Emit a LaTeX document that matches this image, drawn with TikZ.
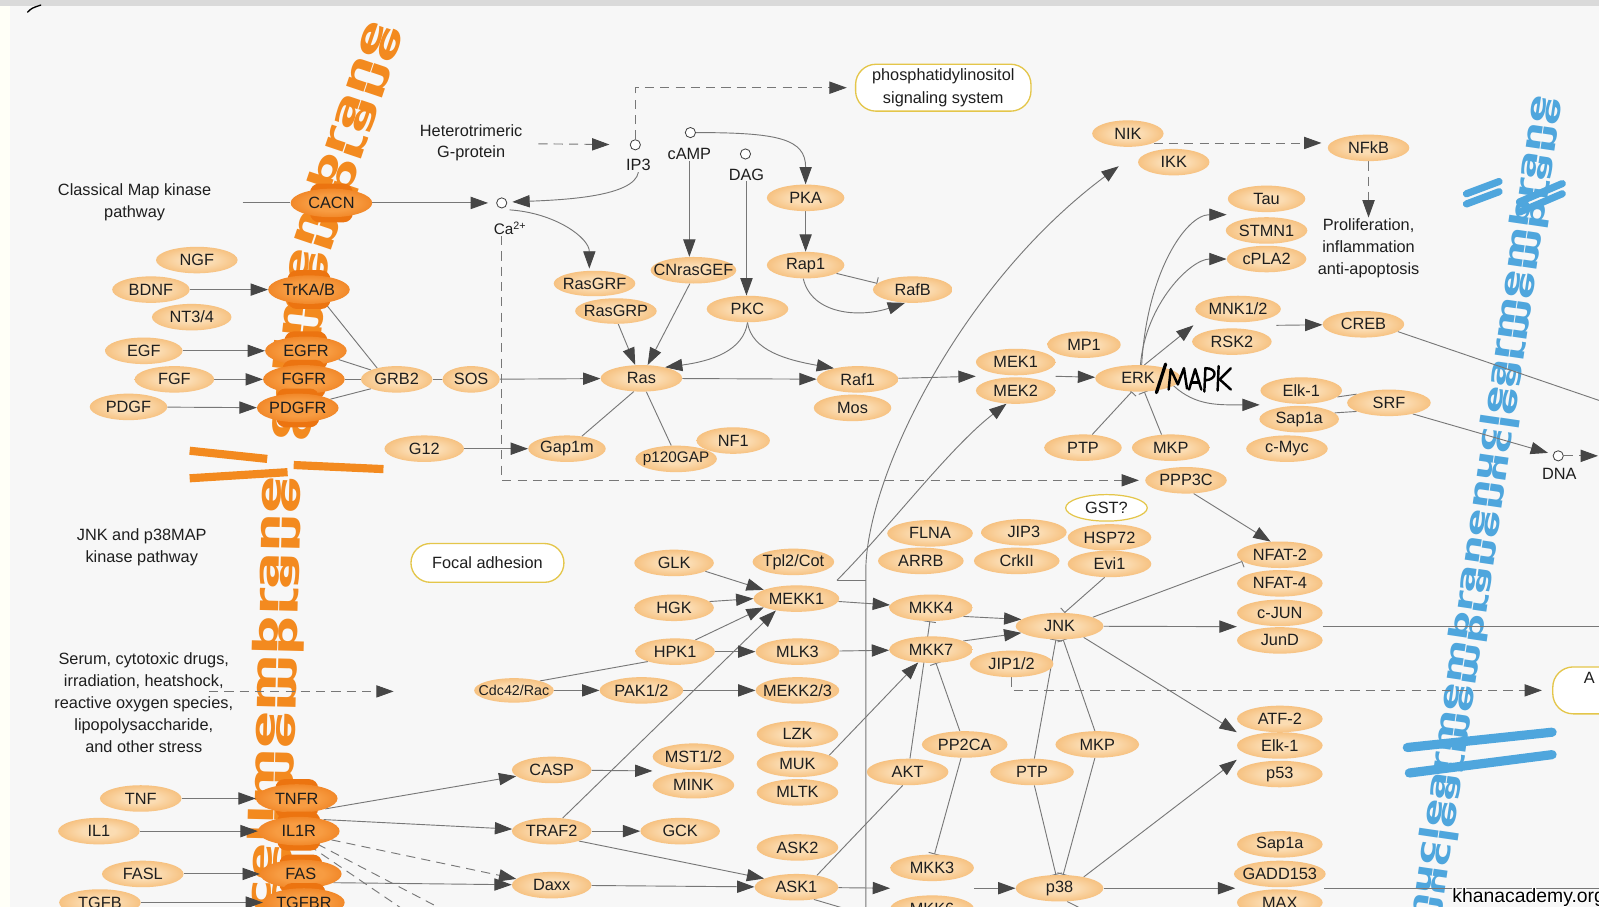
\documentclass[tikz,border=0pt]{standalone}
\usepackage{fontspec}
\usepackage{graphicx}
\setmainfont{Liberation Sans}
\newfontfamily\memfont{DejaVu Sans}
\usetikzlibrary{shapes.geometric,arrows.meta,calc}

\definecolor{paperc}{HTML}{F7F7F7}
\definecolor{framec}{HTML}{DADADA}
\definecolor{gIn}{HTML}{FBDCB2}
\definecolor{gMid}{HTML}{F6C07E}
\definecolor{gOut}{HTML}{EFA24E}
\definecolor{rIn}{HTML}{F79C42}
\definecolor{rOut}{HTML}{EC7410}
\definecolor{wirec}{HTML}{777777}
\definecolor{tipc}{HTML}{464646}
\definecolor{mapc}{HTML}{E4C64A}
\definecolor{txtc}{HTML}{1E1E1E}
\definecolor{cellc}{HTML}{F38A1F}
\definecolor{nucc}{HTML}{4FA6DD}

\pgfdeclareradialshading{genesh}{\pgfpoint{0bp}{0bp}}{color(0bp)=(gIn); color(10bp)=(gIn); color(26bp)=(gMid); color(37bp)=(gOut); color(50bp)=(gOut)}
\pgfdeclareradialshading{recsh}{\pgfpoint{0bp}{0bp}}{color(0bp)=(rIn); color(14bp)=(rIn); color(36bp)=(rOut); color(50bp)=(rOut)}

\pgfdeclarelayer{paper}
\pgfdeclarelayer{membrane}
\pgfdeclarelayer{wires}
\pgfsetlayers{paper,membrane,wires,main}

% receptor: a dark bump behind a dark ellipse
\newcommand\recep[3]{\node[bump] at #2 {}; \node[rec] (#1) at #2 {#3};}
% membrane lettering: a word column and its mirror image
\newcommand\memcol[6]{%
  \node[memtext,rotate=#2,text=#6] at #1 {\resizebox{#3}{#4}{\memfont\bfseries #5}};
  \node[memtext,rotate=#2,yscale=-1,text=#6] at #1 {\resizebox{#3}{#4}{\memfont\bfseries #5}};}

\tikzset{
  gene/.style={ellipse, minimum width=78pt, minimum height=26pt, inner sep=0pt,
    shade, shading=genesh,
    execute at begin node={\hbox to 0pt\bgroup\hss},
    execute at end node={\hss\egroup}},
  rec/.style={gene, shading=recsh, minimum width=80pt, minimum height=28pt},
  bump/.style={rectangle, rounded corners=9pt, fill=rOut, minimum width=42pt, minimum height=38pt, inner sep=0pt},
  cpd/.style={circle, draw=black!75, fill=white, line width=0.8pt, minimum size=10pt, inner sep=0pt},
  lbl/.style={align=center, inner sep=1pt, font=\fontsize{16}{21.5}\selectfont},
  mapbox/.style={rectangle, rounded corners=20pt, draw=mapc, line width=1.3pt, fill=white, align=center, inner sep=2pt},
  wire/.style={draw=wirec, line width=0.9pt},
  arrowtip/.style={-{Triangle[length=17pt,width=12pt,color=tipc]}},
  act/.style={wire, arrowtip},
  inh/.style={wire, -{Bar[width=12pt]}},
  dsh/.style={dash pattern=on 9pt off 6pt},
  memtext/.style={inner sep=0pt, anchor=south},
  wmark/.style={anchor=base west, inner sep=0pt, font=\fontsize{19}{19}\selectfont},
}

\begin{document}
\begin{tikzpicture}[x=1pt, y=-1pt, font=\fontsize{16}{19}\selectfont, text=txtc]
\useasboundingbox (0,0) rectangle (1568,889);

\begin{pgfonlayer}{paper}
  \fill[framec] (0,0) rectangle (1568,889);
  \fill[white!97!yellow] (0,6) rectangle (10,889);
  \fill[paperc] (10,6) rectangle (1568,889);
  \draw[black, line width=1.3pt, line cap=round] (27,12) .. controls (31,8) .. (40,5);
\end{pgfonlayer}

% ---------------- membranes ----------------
\begin{pgfonlayer}{membrane}
  % plasma membrane
  \memcol{(271.5,681)}{88.6}{428pt}{25pt}{cellmembrane}{cellc}
  \memcol{(295,338.5)}{83.9}{188pt}{25pt}{cellme}{cellc}
  \memcol{(342.5,133.5)}{71.4}{232pt}{25pt}{mbrane}{cellc}
  \draw[cellc, line width=8pt] (186,442) -- (262,450);
  \draw[cellc, line width=8pt] (186,469) -- (282,463);
  \draw[cellc, line width=8pt] (288,456) -- (376,460);
  % nuclear membrane
  \memcol{(1458,500)}{81.6}{819pt}{19pt}{nuclearmembranenuclearmembrane}{nucc}
  \draw[nucc, line width=9pt, line cap=round] (1380,733) -- (1522,718);
  \draw[nucc, line width=9pt, line cap=round] (1382,758) -- (1522,740);
  \draw[nucc, line width=7pt, line cap=round] (1438,190) -- (1470,178);
  \draw[nucc, line width=7pt, line cap=round] (1438,200) -- (1470,188);
  \draw[nucc, line width=7pt, line cap=round] (1490,198) -- (1532,180);
  \draw[nucc, line width=7pt, line cap=round] (1490,208) -- (1532,190);
\end{pgfonlayer}

% ---------------- labels and compounds ----------------
\node[lbl] (classic) at (132,198.5) {Classical Map kinase\\pathway};
\coordinate (clsEnd) at (238,199);
\node[lbl] (hetero) at (462,140) {Heterotrimeric\\G-protein};
\coordinate (hetOut) at (528,141);
\node[cpd] (Ca) at (492,199) {};
\node[lbl, font=\fontsize{15}{18}\selectfont] (CaL) at (500,224) {Ca\textsuperscript{2+}};
\node[cpd] (IP3) at (623,142) {};
\node[lbl] (IP3L) at (626,162) {IP3};
\node[cpd] (cAMP) at (677,130) {};
\node[lbl] (cAMPL) at (676,151) {cAMP};
\node[cpd] (DAG) at (731,151) {};
\node[lbl] (DAGL) at (732,171) {DAG};
\node[mapbox, minimum width=172pt, minimum height=46pt, font=\fontsize{16}{22}\selectfont] (PI) at (925,86) {phosphatidylinositol\\signaling system};
\node[lbl] (prolif) at (1342,243.5) {Proliferation,\\inflammation\\anti-apoptosis};
\node[cpd] (DNA) at (1528,447) {};
\node[lbl] (DNAL) at (1529,465) {DNA};
\coordinate (dnaEnd) at (1567,447);
\coordinate (crebEnd) at (1572,394);

\node[lbl] (jnklab) at (139,537) {JNK and p38MAP\\kinase pathway};
\node[mapbox, minimum width=150pt, minimum height=38pt, rounded corners=19pt] (focal) at (478,552) {Focal adhesion};
\node[lbl] (serum) at (141,689) {Serum, cytotoxic drugs,\\irradiation, heatshock,\\reactive oxygen species,\\lipopolysaccharide,\\and other stress};
\coordinate (serumStart) at (205,678);
\coordinate (serumEnd) at (386,678);
\node[mapbox, minimum width=110pt, minimum height=46pt, anchor=west] (Abox) at (1522,677) {};
\node[lbl, anchor=west] (Atxt) at (1552,665) {A};

% ---------------- receptors ----------------
\recep{CACN}{(325,199)}{CACN}
\recep{TrKAB}{(303,284)}{TrKA/B}
\recep{EGFR}{(300,344)}{EGFR}
\recep{FGFR}{(298,372)}{FGFR}
\recep{PDGFR}{(292,400)}{PDGFR}
\recep{TNFR}{(291,783)}{TNFR}
\recep{IL1R}{(293,815)}{IL1R}
\recep{FAS}{(295,857)}{FAS}
\recep{TGFBR}{(298,885)}{TGFBR}

% ---------------- classical MAPK genes ----------------
\node[gene, minimum width=80pt] (NGF) at (193,255) {NGF};
\node[gene, minimum width=76pt] (BDNF) at (148,284) {BDNF};
\node[gene] (NT34) at (188,311) {NT3/4};
\node[gene, minimum width=76pt] (EGF) at (141,344) {EGF};
\node[gene] (FGF) at (171,372) {FGF};
\node[gene, minimum width=76pt] (PDGF) at (126,399) {PDGF};
\node[gene, minimum width=70pt] (GRB2) at (389,372) {GRB2};
\node[gene, minimum width=56pt] (SOS) at (462,372) {SOS};
\node[gene] (G12) at (416,440) {G12};
\node[gene, minimum width=80pt, minimum height=25pt] (RasGRF) at (583,278) {RasGRF};
\node[gene, minimum width=80pt, minimum height=25pt] (RasGRP) at (604,305) {RasGRP};
\node[gene, minimum width=84pt] (CNrasGEF) at (680,265) {CNrasGEF};
\node[gene, minimum width=80pt] (PKC) at (733,303) {PKC};
\node[gene, minimum width=76pt] (PKA) at (790,194) {PKA};
\node[gene, minimum width=76pt] (Rap1) at (790,260) {Rap1};
\node[gene] (RafB) at (895,284) {RafB};
\node[gene, minimum width=80pt] (Ras) at (629,371) {Ras};
\node[gene, minimum width=80pt] (Raf1) at (841,372) {Raf1};
\node[gene, minimum width=76pt] (Mos) at (836,400) {Mos};
\node[gene, minimum width=76pt] (Gap1m) at (556,440) {Gap1m};
\node[gene, minimum width=72pt] (NF1) at (719,432) {NF1};
\node[gene, minimum width=80pt, font=\fontsize{15}{18}\selectfont] (p120GAP) at (663,450) {p120GAP};
\node[gene, minimum width=72pt] (MP1) at (1063,338) {MP1};
\node[gene] (MEK1) at (996,355) {MEK1};
\node[gene] (MEK2) at (996,383) {MEK2};
\node[gene, minimum width=84pt] (ERK) at (1116,371) {ERK};
\node[gene, minimum width=76pt] (PTPa) at (1062,439) {PTP};
\node[gene, minimum width=76pt] (MKPa) at (1148,439) {MKP};
\node[gene, minimum width=80pt] (PPP3C) at (1163,471) {PPP3C};
\node[gene, minimum width=70pt] (NIK) at (1106,131) {NIK};
\node[gene, minimum width=70pt] (IKK) at (1151,159) {IKK};
\node[gene, minimum width=80pt] (NFkB) at (1342,145) {NFkB};
\node[gene, minimum width=76pt] (Tau) at (1242,195) {Tau};
\node[gene, minimum width=80pt] (STMN1) at (1242,226) {STMN1};
\node[gene] (cPLA2) at (1242,254) {cPLA2};
\node[gene, minimum width=84pt] (MNK12) at (1214,303) {MNK1/2};
\node[gene] (RSK2) at (1208,335) {RSK2};
\node[gene, minimum width=80pt] (CREB) at (1337,318) {CREB};
\node[gene, minimum width=80pt] (Elk1) at (1276,383) {Elk-1};
\node[gene] (Sap1a) at (1274,411) {Sap1a};
\node[gene, minimum width=80pt] (cMyc) at (1262,440) {c-Myc};
\node[gene, minimum width=82pt] (SRF) at (1362,395) {SRF};

% ---------------- JNK / p38 genes ----------------
\node[gene] (GLK) at (661,552) {GLK};
\node[gene] (HGK) at (661,596) {HGK};
\node[gene] (HPK1) at (662,639) {HPK1};
\node[gene, minimum width=80pt] (Tpl2) at (778,551) {Tpl2/Cot};
\node[gene, minimum width=84pt] (MEKK1) at (781,587) {MEKK1};
\node[gene, minimum width=82pt] (MLK3) at (782,639) {MLK3};
\node[gene, minimum width=82pt] (MEKK23) at (782,677) {MEKK2/3};
\node[gene, minimum height=24pt, font=\fontsize{14}{17}\selectfont] (Cdc42) at (504,677) {Cdc42/Rac};
\node[gene, minimum width=82pt] (PAK12) at (629,677) {PAK1/2};
\node[gene, minimum width=80pt] (LZK) at (782,720) {LZK};
\node[gene, minimum width=80pt] (MUK) at (782,749) {MUK};
\node[gene, minimum width=80pt] (MLTK) at (782,777) {MLTK};
\node[gene] (CASP) at (541,755) {CASP};
\node[gene, minimum width=80pt] (MST12) at (680,742) {MST1/2};
\node[gene, minimum width=80pt] (MINK) at (680,770) {MINK};
\node[gene] (TRAF2) at (541,815) {TRAF2};
\node[gene] (GCK) at (667,815) {GCK};
\node[gene, minimum width=80pt] (ASK2) at (782,831) {ASK2};
\node[gene, minimum width=82pt] (ASK1) at (781,870) {ASK1};
\node[gene] (Daxx) at (541,868) {Daxx};
\node[gene, minimum width=84pt] (FLNA) at (912,523) {FLNA};
\node[gene, minimum width=84pt] (JIP3) at (1004,522) {JIP3};
\node[gene, minimum width=84pt] (ARRB) at (903,550) {ARRB};
\node[gene, minimum width=84pt] (CrkII) at (997,550) {CrkII};
\node[ellipse, draw=mapc, line width=1.2pt, fill=white, minimum width=80pt, minimum height=26pt, inner sep=0pt] (GST) at (1085,498) {GST?};
\node[gene, minimum width=82pt] (HSP72) at (1088,527) {HSP72};
\node[gene, minimum width=82pt] (Evi1) at (1088,553) {Evi1};
\node[gene, minimum width=82pt] (MKK4) at (913,596) {MKK4};
\node[gene, minimum width=82pt] (MKK7) at (913,637) {MKK7};
\node[gene, minimum width=82pt] (JIP12) at (992,651) {JIP1/2};
\node[gene, minimum width=86pt] (JNK) at (1039,614) {JNK};
\node[gene, minimum width=84pt] (NFAT2) at (1255,544) {NFAT-2};
\node[gene, minimum width=84pt] (NFAT4) at (1255,572) {NFAT-4};
\node[gene, minimum width=84pt] (cJUN) at (1255,601) {c-JUN};
\node[gene, minimum width=84pt] (JunD) at (1255,628) {JunD};
\node[gene, minimum width=84pt] (PP2CA) at (946,730) {PP2CA};
\node[gene, minimum width=80pt] (AKT) at (890,757) {AKT};
\node[gene, minimum width=82pt] (PTPb) at (1012,757) {PTP};
\node[gene, minimum width=82pt] (MKPb) at (1076,730) {MKP};
\node[gene, minimum width=82pt] (MKK3) at (914,851) {MKK3};
\node[gene, minimum width=82pt] (MKK6) at (914,891) {MKK6};
\node[gene, minimum width=86pt] (p38) at (1039,871) {p38};
\node[gene, minimum width=84pt] (ATF2) at (1255,705) {ATF-2};
\node[gene, minimum width=84pt] (Elk1b) at (1255,731) {Elk-1};
\node[gene, minimum width=84pt] (p53) at (1255,759) {p53};
\node[gene, minimum width=84pt] (Sap1ab) at (1255,828) {Sap1a};
\node[gene, minimum width=90pt] (GADD) at (1255,857) {GADD153};
\node[gene, minimum width=84pt] (MAX) at (1255,885) {MAX};
\node[gene, minimum width=80pt] (TNF) at (138,783) {TNF};
\node[gene, minimum width=80pt] (IL1) at (97,815) {IL1};
\node[gene, minimum width=80pt] (FASL) at (140,857) {FASL};
\node[gene, minimum width=80pt] (TGFB) at (98,885) {TGFB};

% group entry and exit points
\coordinate (MEKin) at ($(MEK1.west)!0.5!(MEK2.west)$);
\coordinate (MEKout) at ($(MEK1.east)!0.5!(MEK2.east)$);
\coordinate (TauIn) at ($(Tau.west)!0.5!(STMN1.west)$);
\coordinate (MNKin) at ($(MNK12.west)!0.5!(RSK2.west)$);
\coordinate (MNKout) at ($(MNK12.east)!0.5!(RSK2.east)$);
\coordinate (ElkIn) at ($(Elk1.west)!0.5!(Sap1a.west)$);
\coordinate (JUNin) at ($(cJUN.west)!0.5!(JunD.west)$);
\coordinate (JUNout) at ($(cJUN.east)!0.5!(JunD.east)$);
\coordinate (ATFin) at ($(ATF2.west)!0.5!(Elk1b.west)$);
\coordinate (ATFin2) at ($(Elk1b.west)!0.5!(p53.west)$);
\coordinate (GADin) at ($(GADD.west)!0.5!(MAX.west)$);
\coordinate (GADout) at ($(GADD.east)!0.5!(MAX.east)$);
\coordinate (MKKin) at ($(MKK3.west)!0.5!(MKK6.west)$);
\coordinate (MKKout) at ($(MKK3.east)!0.5!(MKK6.east)$);
\coordinate (MSTin) at ($(MST12.west)!0.5!(MINK.west)$);
\coordinate (J) at ($(Tpl2.east)!0.5!(MEKK1.east)$);
\coordinate (vbot) at (849,895);
\coordinate (vtop) at (849,560);
\coordinate (NFin) at (1097,163);
\coordinate (junEnd) at (1572,614.5);
\coordinate (gadEnd) at (1572,871);
\coordinate (askEnd) at (842,895);
\coordinate (p38End) at (1068,895);
\coordinate (dEnd1) at (440,895);
\coordinate (dEnd2) at (400,895);

% ---------------- connectors ----------------
\begin{pgfonlayer}{wires}
  \draw[wire] (clsEnd) -- (CACN);
  \draw[act, shorten >=8pt] (CACN) -- (Ca);
  \draw[wire, dsh, arrowtip, shorten >=20pt] (hetOut) -- (IP3);
  \draw[wire, dsh, arrowtip, shorten >=8pt] (IP3.north) |- (PI.west);
  \draw[act] (IP3L.south) .. controls +(-4,24) and +(50,-2) .. ($(Ca.east)+(5,-1)$);
  \draw[act] ($(Ca.south east)+(4,3)$) .. controls +(45,3) and +(0,-30) .. ($(RasGRF.112)+(0,-2)$);
  \draw[act] (cAMPL.south) -- (cAMPL.south |- CNrasGEF.north);
  \draw[act] (DAGL.south) -- (DAGL.south |- PKC.north);
  \draw[act] (cAMP.east) .. controls +(80,0) and +(0,-45) .. (PKA.north);
  \draw[act] (PKA) -- (Rap1);
  \draw[inh] (Rap1.-15) -- (RafB.170);
  \draw[act] (Rap1.-100) .. controls +(8,35) and +(-45,15) .. (RafB.-120);
  \draw[act] (RasGRP.-80) -- (Ras.115);
  \draw[act] (CNrasGEF.-105) -- (Ras.65);
  \draw[act] (PKC.south) .. controls +(-4,28) and +(45,-6) .. (Ras.25);
  \draw[act] (PKC.south) .. controls +(4,28) and +(-45,-8) .. (Raf1.155);
  \draw[act] (Ras) -- (Raf1);
  \draw[act] (BDNF) -- (TrKAB);
  \draw[act] (EGF) -- (EGFR);
  \draw[act] (FGF) -- (FGFR);
  \draw[act] (PDGF) -- (PDGFR);
  \draw[wire] (TrKAB.-40) -- (GRB2.150);
  \draw[wire] (EGFR.-15) -- (GRB2.160);
  \draw[wire] (FGFR) -- (GRB2);
  \draw[wire] (PDGFR.15) -- (GRB2.-160);
  \draw[wire] (GRB2) -- (SOS);
  \draw[act] (SOS) -- (Ras);
  \draw[act] (G12) -- (Gap1m);
  \draw[wire] (Ras.-120) -- (Gap1m.40);
  \draw[wire] (Ras.-70) -- (p120GAP.110);
  \draw[act] (Raf1) -- (MEKin);
  \draw[act] (MEKout) -- (ERK);
  \draw[act] (ERK.75) .. controls +(5,-90) and +(-40,0) .. (TauIn);
  \draw[act] (ERK.80) .. controls +(5,-60) and +(-35,0) .. (cPLA2.west);
  \draw[act] (ERK.65) -- (MNKin);
  \draw[act] (MNKout) -- (CREB);
  \draw[wire] (CREB.-12) -- (crebEnd);
  \draw[act] (ERK.-12) .. controls +(22,20) and +(-40,0) .. (ElkIn);
  \draw[inh] (PTPa.55) -- (ERK.-115);
  \draw[inh] (MKPa.125) -- (ERK.-65);
  \draw[wire] (Elk1.-10) -- (SRF.165);
  \draw[wire] (Sap1a.10) -- (SRF.-165);
  \draw[act, shorten >=5pt] (SRF.-25) -- (DNA);
  \draw[wire, dsh, arrowtip] (DNA.east) -- (dnaEnd);
  \draw[wire, dsh, arrowtip, shorten >=6pt] (NIK.-20) -- (NIK.-20 -| NFkB.west);
  \draw[wire, dsh, arrowtip] (NFkB.south) -- (prolif.north);
  \draw[wire, dsh, arrowtip, shorten >=6pt] (CaL.south -| Ca.south) |- (PPP3C.west);
  \draw[act] (vbot) -- (vtop) .. controls (849,470) and (940,280) .. (NFin);
  \draw[act] (J) .. controls (870,520) and (930,440) .. (MEK2.-125);
  \draw[wire] (J) -- (J -| vtop);
  % JNK and p38 part
  \draw[act] (GLK.-15) -- (MEKK1.165);
  \draw[act] (HGK.10) -- (MEKK1.180);
  \draw[act] (HPK1.30) -- (MEKK1.-165);
  \draw[act] (TRAF2.50) -- (MEKK1.-150);
  \draw[act] (HPK1) -- (MLK3);
  \draw[wire] (Cdc42.20) -- (HPK1.-160);
  \draw[act] (Cdc42) -- (PAK12);
  \draw[act] (PAK12) -- (MEKK23);
  \draw[act] (MEKK1) -- (MKK4);
  \draw[act] (MLK3) -- (MKK7);
  \draw[act] (MUK.15) -- (MKK7.-135);
  \draw[wire] (ASK1.30) -- (AKT.-110);
  \draw[inh] (AKT.80) -- (MKK4.-95);
  \draw[inh] (PP2CA.110) -- (MKK7.-70);
  \draw[inh] (PP2CA.-105) -- (MKK3.80);
  \draw[act] (MKK4.-15) -- (JNK.170);
  \draw[act] (MKK7.15) -- (JNK.-170);
  \draw[inh] (Evi1.-110) -- (JNK.70);
  \draw[inh] (PTPb.80) -- (JNK.-105);
  \draw[inh] (PTPb.-80) -- (p38.105);
  \draw[inh] (MKPb.100) -- (JNK.-75);
  \draw[inh] (MKPb.-100) -- (p38.75);
  \draw[inh] (JNK.15) -- (NFAT2.-170);
  \draw[act] (JNK) -- (JUNin);
  \draw[act] (JNK.-25) -- (ATFin);
  \draw[act] (PPP3C.-60) -- (NFAT2.125);
  \draw[wire, dsh, arrowtip, shorten >=10pt] (JIP12.south) |- (Abox.west);
  \draw[act] (ASK1) -- (MKKin);
  \draw[act] (MKKout) -- (p38);
  \draw[act] (p38.25) -- (ATFin2);
  \draw[act] (p38) -- (GADin);
  \draw[wire] (JUNout) -- (junEnd);
  \draw[wire] (GADout) -- (gadEnd);
  \draw[wire] (ASK1.-35) -- (askEnd);
  \draw[wire] (p38.-60) -- (p38End);
  \draw[act] (TNF) -- (TNFR);
  \draw[act] (IL1) -- (IL1R);
  \draw[act] (FASL) -- (FAS);
  \draw[act] (TGFB) -- (TGFBR);
  \draw[act] (TNFR.-20) -- (CASP.190);
  \draw[act] (IL1R.25) -- (TRAF2);
  \draw[wire, dsh, arrowtip] (IL1R.-15) -- (Daxx.170);
  \draw[wire, dsh] (IL1R.-35) -- (dEnd1);
  \draw[wire, dsh] (IL1R.-55) -- (dEnd2);
  \draw[act] (FAS.-15) -- (Daxx);
  \draw[act] (TRAF2) -- (GCK);
  \draw[act] (TRAF2.-20) -- (ASK1.165);
  \draw[act] (Daxx) -- (ASK1);
  \draw[act] (CASP) -- (MSTin);
  \draw[wire, dsh, arrowtip] (serumStart) -- (serumEnd);
\end{pgfonlayer}

% handwritten MAPK over ERK
\begin{scope}[black, line width=2.4pt, line cap=round, line join=round]
  \draw[line width=3.2pt] (1134,385) -- (1143,357);
  \draw (1146,382) -- (1148,362) -- (1155,377) -- (1161,361) -- (1164,381);
  \draw (1166,382) -- (1172,362) -- (1178,382);
  \draw (1168,375) -- (1176,375);
  \draw (1181,384) -- (1182,361) .. controls (1194,361) and (1194,372) .. (1182,373);
  \draw (1194,383) -- (1195,359);
  \draw (1207,361) -- (1196,372) -- (1207,382);
\end{scope}

% site watermark with a light halo
\foreach \dx/\dy in {-1.2/0,1.2/0,0/-1.2,0/1.2}
  \node[wmark, text=white] at (1424+\dx,885+\dy) {khanacademy.org};
\node[wmark, text=black] (wm) at (1424,885) {khanacademy.org};
\end{tikzpicture}
\end{document}
